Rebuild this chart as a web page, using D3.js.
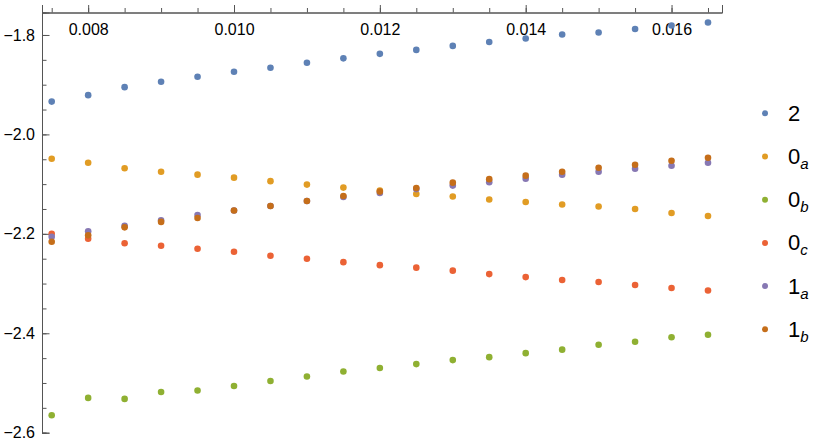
<!DOCTYPE html>
<html>
<head>
<meta charset="utf-8">
<script src="https://cdn.jsdelivr.net/npm/d3@7"></script>
<style>
  body { margin: 0; background: #fff; }
  text { font-family: "Liberation Sans", Arial, sans-serif; }
</style>
</head>
<body>
<div id="chart"></div>
<script>
// x values shared by all series
const xVals = [0.0075, 0.008, 0.0085, 0.009, 0.0095, 0.010, 0.0105, 0.011, 0.0115, 0.012,
               0.0125, 0.013, 0.0135, 0.014, 0.0145, 0.015, 0.0155, 0.016, 0.0165];

const s2 = [-1.934, -1.921, -1.905, -1.894, -1.884, -1.874, -1.866, -1.856, -1.847, -1.838,
            -1.830, -1.822, -1.814, -1.807, -1.799, -1.795, -1.788, -1.781, -1.775];
const s0a = [-2.049, -2.057, -2.068, -2.075, -2.081, -2.087, -2.094, -2.101, -2.107, -2.113,
             -2.120, -2.125, -2.131, -2.136, -2.141, -2.145, -2.150, -2.158, -2.164];
const s0b = [-2.565, -2.530, -2.532, -2.518, -2.515, -2.506, -2.496, -2.487, -2.477, -2.470,
             -2.462, -2.454, -2.448, -2.440, -2.433, -2.423, -2.417, -2.408, -2.403];
const s0c = [-2.200, -2.210, -2.219, -2.224, -2.230, -2.236, -2.244, -2.250, -2.257, -2.263,
             -2.268, -2.274, -2.281, -2.287, -2.293, -2.297, -2.303, -2.309, -2.314];
const s1a = [-2.206, -2.195, -2.184, -2.173, -2.162, -2.153, -2.144, -2.134, -2.126, -2.118,
             -2.110, -2.103, -2.096, -2.089, -2.081, -2.075, -2.069, -2.063, -2.057];
const s1b = [-2.216, -2.203, -2.187, -2.176, -2.168, -2.153, -2.144, -2.134, -2.124, -2.115,
             -2.108, -2.097, -2.090, -2.083, -2.075, -2.067, -2.061, -2.053, -2.047];

const seriesNames = [["2", ""], ["0", "a"], ["0", "b"], ["0", "c"], ["1", "a"], ["1", "b"]];
const seriesValues = [s2, s0a, s0b, s0c, s1a, s1b];
const colors = ["#5E81B5", "#E19C24", "#8FB032", "#EB6235", "#8778B3", "#C56E1A"];

const xMajor = [0.008, 0.010, 0.012, 0.014, 0.016];
const xMinor = d3.range(0, 19).map(i => 0.0075 + i * 0.0005);
const yMajor = [-1.8, -2.0, -2.2, -2.4, -2.6];
const yMinor = d3.range(0, 17).map(i => -2.6 + i * 0.05);

const W = 830, H = 446;

const svg = d3.select('#chart')
    .append('svg')
    .attr('width', W)
    .attr('height', H);

const xScale = d3.scaleLinear()
    .domain([0.007367, 0.016692])
    .range([42, 722]);

const yScale = d3.scaleLinear()
    .domain([-2.6, -1.7548])
    .range([432.7, 12.5]);

const axisColor = '#555';
const x0 = xScale.range()[0];
const yTop = yScale.range()[1];

// x axis at top, ticks pointing up, labels below
const xMinorG = svg.append('g')
    .attr('transform', `translate(0, ${yTop})`)
    .call(d3.axisTop(xScale).tickValues(xMinor).tickSize(4.5).tickFormat(''));
const xMajorG = svg.append('g')
    .attr('transform', `translate(0, ${yTop})`)
    .call(d3.axisTop(xScale).tickValues(xMajor).tickSize(7.5).tickFormat(d3.format('.3f')));
xMajorG.selectAll('text')
    .attr('y', 22.5)
    .attr('dy', '0')
    .attr('fill', '#000')
    .style('font-size', '16px');

// y axis, ticks pointing right
const yMinorG = svg.append('g')
    .attr('transform', `translate(${x0}, 0)`)
    .call(d3.axisLeft(yScale).tickValues(yMinor).tickSize(-4.5).tickFormat(''));
const yMajorG = svg.append('g')
    .attr('transform', `translate(${x0}, 0)`)
    .call(d3.axisLeft(yScale).tickValues(yMajor).tickSize(-7.5).tickPadding(7)
        .tickFormat(d => d3.format('.1f')(d).replace('-', '\u2212')));
yMajorG.selectAll('text')
    .attr('fill', '#000')
    .style('font-size', '16px');

svg.selectAll('.domain').attr('stroke', axisColor);
svg.selectAll('.tick line').attr('stroke', axisColor);

// points
seriesValues.forEach((vals, si) => {
    svg.append('g')
        .selectAll('circle')
        .data(vals)
        .enter()
        .append('circle')
        .attr('cx', (d, i) => xScale(xVals[i]))
        .attr('cy', d => yScale(d))
        .attr('r', 3.3)
        .attr('fill', colors[si]);
});

// legend
const legend = svg.append('g');
seriesNames.forEach((name, i) => {
    const ly = 113.3 + i * 43.2;
    legend.append('circle')
        .attr('cx', 765)
        .attr('cy', ly)
        .attr('r', 3)
        .attr('fill', colors[i]);
    const t = legend.append('text')
        .attr('x', 788)
        .attr('y', ly + 7.5)
        .style('font-size', '22px')
        .attr('fill', '#000');
    t.append('tspan').text(name[0]);
    if (name[1]) {
        t.append('tspan')
            .attr('dy', 5)
            .style('font-size', '15px')
            .style('font-style', 'italic')
            .text(name[1]);
    }
});
</script>
</body>
</html>
